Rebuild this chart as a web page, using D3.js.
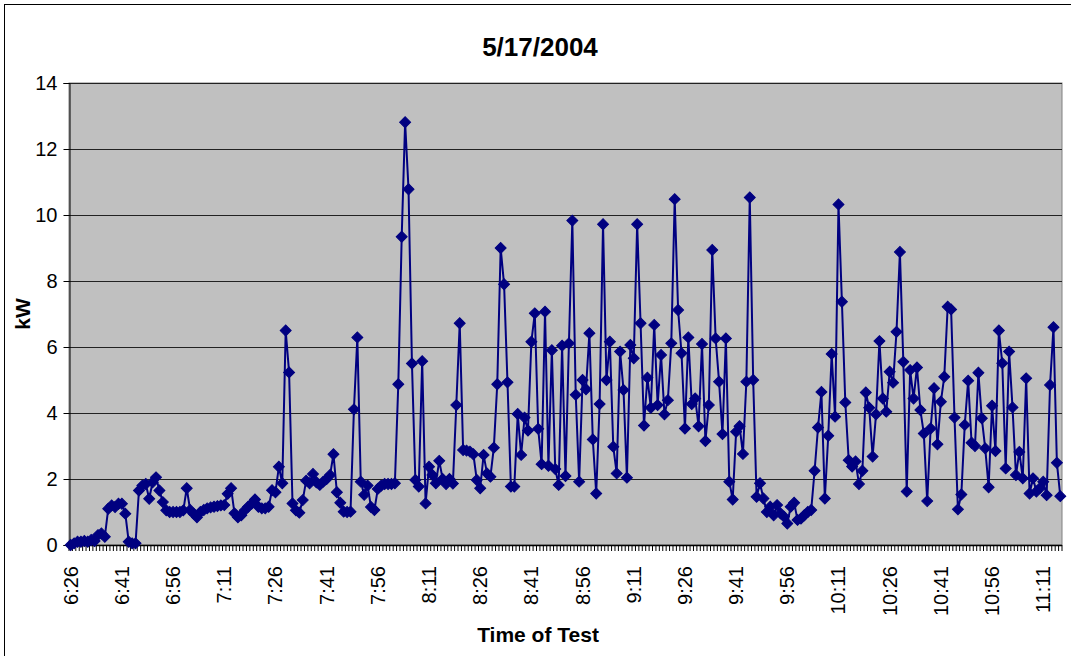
<!DOCTYPE html>
<html>
<head>
<meta charset="utf-8">
<script src="https://cdn.jsdelivr.net/npm/d3@7"></script>
<style>
  html, body { margin: 0; padding: 0; background: #fff; }
  svg { display: block; font-family: Arial, "Liberation Sans", sans-serif; }
</style>
</head>
<body>
<svg id="chart" width="1071" height="656"></svg>
<script>
// ---- Data ----
const chartTitle = "5/17/2004";
const xTitle = "Time of Test";
const yTitle = "kW";
const startTime = "6:26";
const kW = [
  0.0, 0.05, 0.1, 0.1, 0.12, 0.1, 0.15, 0.12, 0.3, 0.35,
  0.25, 1.1, 1.2, 1.15, 1.25, 1.25, 0.95, 0.1, 0.05, 0.05,
  1.65, 1.8, 1.85, 1.4, 1.9, 2.05, 1.65, 1.3, 1.05, 1.0,
  1.0, 1.0, 1.0, 1.05, 1.72, 1.06, 0.95, 0.84, 1.0, 1.06,
  1.11, 1.14, 1.16, 1.18, 1.2, 1.21, 1.55, 1.72, 0.96, 0.84,
  0.9, 1.05, 1.16, 1.25, 1.38, 1.16, 1.11, 1.11, 1.16, 1.66,
  1.6, 2.37, 1.87, 6.5, 5.23, 1.26, 1.05, 0.98, 1.36, 1.95,
  1.87, 2.15, 1.9, 1.82, 1.92, 2.0, 2.12, 2.75, 1.6, 1.28,
  1.01, 1.0, 1.01, 4.11, 6.29, 1.92, 1.52, 1.8, 1.15, 1.06,
  1.7, 1.8, 1.85, 1.85, 1.85, 1.87, 4.87, 9.34, 12.81, 10.78,
  5.5, 1.97, 1.77, 5.57, 1.26, 2.37, 2.12, 1.87, 2.55, 2.0,
  1.85, 2.0, 1.86, 4.24, 6.72, 2.88, 2.86, 2.83, 2.75, 1.97,
  1.72, 2.73, 2.17, 2.07, 2.95, 4.87, 9.0, 7.9, 4.93, 1.77,
  1.77, 3.97, 2.73, 3.86, 3.47, 6.16, 7.02, 3.52, 2.45, 7.07,
  2.4, 5.9, 2.3, 1.82, 6.04, 2.09, 6.11, 9.83, 4.55, 1.92,
  5.0, 4.72, 6.42, 3.2, 1.56, 4.27, 9.72, 5.0, 6.16, 2.98,
  2.17, 5.86, 4.7, 2.04, 6.06, 5.66, 9.72, 6.72, 3.62, 5.07,
  4.16, 6.67, 4.24, 5.76, 3.96, 4.39, 6.11, 10.48, 7.12, 5.81,
  3.53, 6.29, 4.27, 4.44, 3.6, 6.09, 3.15, 4.24, 8.94, 6.26,
  4.95, 3.36, 6.26, 1.92, 1.38, 3.43, 3.6, 2.76, 4.95, 10.53,
  5.0, 1.46, 1.87, 1.41, 1.0, 1.16, 0.9, 1.21, 0.96, 0.86,
  0.65, 1.16, 1.28, 0.76, 0.8, 0.9, 1.0, 1.06, 2.25, 3.56,
  4.64, 1.41, 3.31, 5.79, 3.89, 10.32, 7.37, 4.32, 2.57, 2.38,
  2.53, 1.85, 2.25, 4.62, 4.16, 2.68, 3.96, 6.18, 4.44, 4.04,
  5.25, 4.92, 6.46, 8.88, 5.55, 1.62, 5.3, 4.44, 5.38, 4.09,
  3.38, 1.33, 3.53, 4.75, 3.05, 4.34, 5.1, 7.22, 7.14, 3.86,
  1.08, 1.53, 3.64, 4.98, 3.1, 3.0, 5.22, 3.84, 2.93, 1.75,
  4.22, 2.85, 6.5, 5.51, 2.32, 5.86, 4.17, 2.12, 2.82, 2.02,
  5.05, 1.56, 2.02, 1.62, 1.72, 1.92, 1.51, 4.85, 6.6, 2.49,
  1.48
];
const tickLabels = ["6:26","6:41","6:56","7:11","7:26","7:41","7:56","8:11","8:26","8:41",
  "8:56","9:11","9:26","9:41","9:56","10:11","10:26","10:41","10:56","11:11"];
const yTicks = [0, 2, 4, 6, 8, 10, 12, 14];

// one category per minute, starting at startTime
const [h0, m0] = startTime.split(":").map(Number);
const categories = kW.map((_, i) => {
  const t = h0 * 60 + m0 + i;
  return Math.floor(t / 60) + ":" + String(t % 60).padStart(2, "0");
});
const data = categories.map((c, i) => ({ c, v: kW[i] }));

// ---- Layout ----
const W = 1071, H = 656;
const plot = { left: 69, right: 1062, top: 83, bottom: 545 };
const svg = d3.select("#chart");

// chart area border
svg.append("rect")
  .attr("x", 4.5).attr("y", 4.5)
  .attr("width", W + 20).attr("height", H + 20)
  .attr("fill", "#fff").attr("stroke", "#000").attr("stroke-width", 1);

const x = d3.scaleBand().domain(categories).range([plot.left, plot.right]).padding(0);
const y = d3.scaleLinear().domain([0, 14]).range([plot.bottom, plot.top]);

// plot area
svg.append("rect")
  .attr("x", plot.left).attr("y", plot.top)
  .attr("width", plot.right - plot.left).attr("height", plot.bottom - plot.top)
  .attr("fill", "#C0C0C0").attr("stroke", "#808080").attr("stroke-width", 1);

// gridlines
svg.append("g").selectAll("line").data(yTicks.filter(t => t > 0)).join("line")
  .attr("x1", plot.left).attr("x2", plot.right)
  .attr("y1", d => Math.round(y(d)) + 0.5).attr("y2", d => Math.round(y(d)) + 0.5)
  .attr("stroke", "#222").attr("stroke-width", 1);

// y axis
const yAxis = svg.append("g")
  .attr("transform", `translate(${plot.left + 0.5},0)`)
  .call(d3.axisLeft(y).tickValues(yTicks).tickSize(6).tickPadding(6).tickFormat(d3.format("d")));
yAxis.select(".domain").attr("stroke", "#000");
yAxis.selectAll(".tick line").attr("stroke", "#000");
yAxis.selectAll("text").attr("font-size", 20).attr("fill", "#000")
  .attr("font-family", "Arial, 'Liberation Sans', sans-serif");

// x axis line
svg.append("line")
  .attr("x1", plot.left).attr("x2", plot.right)
  .attr("y1", plot.bottom + 0.5).attr("y2", plot.bottom + 0.5)
  .attr("stroke", "#000").attr("stroke-width", 1.5);

// x minor ticks between categories
const tickXs = categories.map(c => x(c)).concat([x(categories[categories.length - 1]) + x.bandwidth()]);
svg.append("g").selectAll("line").data(tickXs).join("line")
  .attr("x1", d => d).attr("x2", d => d)
  .attr("y1", plot.bottom).attr("y2", plot.bottom + 6)
  .attr("stroke", "#000").attr("stroke-width", 1);

// x labels
const xAxis = svg.append("g")
  .attr("transform", `translate(0,${plot.bottom})`)
  .call(d3.axisBottom(x).tickValues(tickLabels).tickSize(0).tickPadding(0));
xAxis.select(".domain").remove();
xAxis.selectAll("text")
  .attr("font-size", 20).attr("fill", "#000")
  .attr("font-family", "Arial, 'Liberation Sans', sans-serif")
  .attr("text-anchor", "end")
  .attr("dy", "0.35em")
  .attr("transform", "translate(0,21) rotate(-90)")
  .attr("x", 0).attr("y", 0);

// series line
svg.append("path")
  .datum(data)
  .attr("fill", "none")
  .attr("stroke", "#000080")
  .attr("stroke-width", 2)
  .attr("stroke-linejoin", "round")
  .attr("d", d3.line().x(d => x(d.c) + x.bandwidth() / 2).y(d => y(d.v)));

// diamond markers
const diamond = d3.symbol().type(d3.symbolSquare).size(60);
svg.append("g").selectAll("path").data(data).join("path")
  .attr("d", diamond)
  .attr("transform", d => `translate(${x(d.c) + x.bandwidth() / 2},${y(d.v)}) rotate(45)`)
  .attr("fill", "#000080").attr("stroke", "#000080").attr("stroke-width", 1);

// titles
svg.append("text")
  .attr("x", 540).attr("y", 56)
  .attr("text-anchor", "middle")
  .attr("font-size", 26).attr("font-weight", "bold")
  .text(chartTitle);

svg.append("text")
  .attr("x", 538).attr("y", 642)
  .attr("text-anchor", "middle")
  .attr("font-size", 21).attr("font-weight", "bold")
  .text(xTitle);

svg.append("text")
  .attr("transform", `translate(30,${(plot.top + plot.bottom) / 2}) rotate(-90)`)
  .attr("text-anchor", "middle")
  .attr("font-size", 21).attr("font-weight", "bold")
  .text(yTitle);
</script>
</body>
</html>
